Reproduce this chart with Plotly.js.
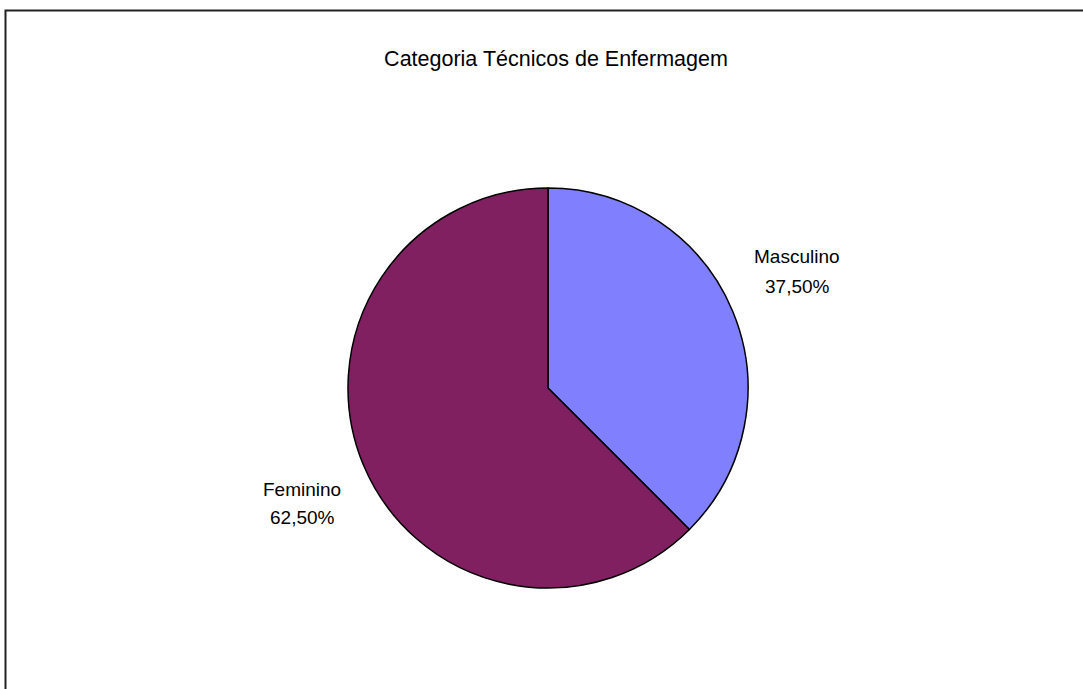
<!DOCTYPE html>
<html>
<head>
<meta charset="utf-8">
<script src="https://cdn.plot.ly/plotly-3.0.1.min.js"></script>
<style>
html,body{margin:0;padding:0;background:#fff;}
#chart{width:1083px;height:689px;}
</style>
</head>
<body>
<div id="chart"></div>
<script>
const categories = ["Masculino", "Feminino"];
const values = [37.5, 62.5];
const colors = ["#8080FF", "#802060"];

const W = 1083, H = 689;
const cx = 548, cy = 388, R = 200;
const FONT = 'Liberation Sans, Arial, sans-serif';

function fmt(v){ return v.toFixed(2).replace('.', ',') + '%'; }

// label anchor positions (pixels): [x, y of first line, y of second line]
const labelPos = [[797, 256, 286], [302, 489, 517]];

const annotations = [];
categories.forEach((c, i) => {
  const lines = [c, fmt(values[i])];
  lines.forEach((t, k) => annotations.push({
    text: t,
    x: labelPos[i][0] / W, y: 1 - labelPos[i][1 + k] / H,
    xref: 'paper', yref: 'paper', showarrow: false,
    xanchor: 'center', yanchor: 'middle',
    font: {family: FONT, size: 19, color: '#000'}
  }));
});

const data = [{
  type: 'pie',
  labels: categories,
  values: values,
  sort: false,
  direction: 'clockwise',
  rotation: 0,
  marker: {colors: colors, line: {color: '#000', width: 1.5}},
  textinfo: 'none',
  hoverinfo: 'label+percent',
  domain: {x: [(cx - R) / W, (cx + R) / W], y: [1 - (cy + R) / H, 1 - (cy - R) / H]}
}];

const layout = {
  width: W, height: H,
  margin: {l: 0, r: 0, t: 0, b: 0},
  paper_bgcolor: '#fff',
  showlegend: false,
  title: {text: 'Categoria Técnicos de Enfermagem', x: 556 / W, xanchor: 'center', y: 1 - 58 / H, yanchor: 'middle',
          font: {family: FONT, size: 21.5, color: '#000'}},
  annotations: annotations,
  shapes: [{type: 'rect', xref: 'paper', yref: 'paper', x0: 5.5 / W, x1: 1.05, y0: -0.05, y1: 1 - 10.5 / H,
            line: {color: '#222', width: 2}, fillcolor: 'rgba(0,0,0,0)', layer: 'below'}]
};

Plotly.newPlot('chart', data, layout, {displayModeBar: false, staticPlot: true});
</script>
</body>
</html>
